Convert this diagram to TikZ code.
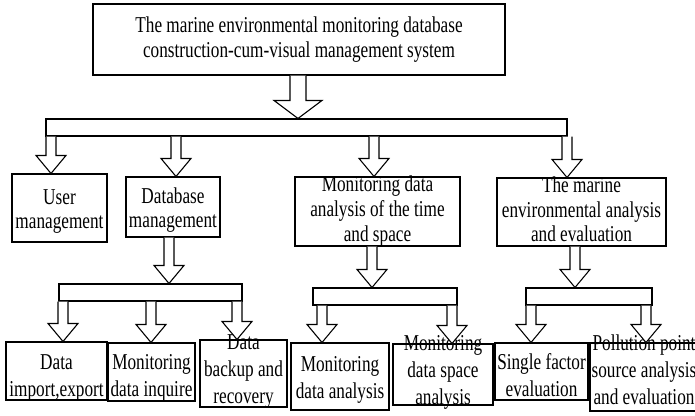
\documentclass[tikz,border=0pt]{standalone}
\usepackage{fontspec}
\setmainfont{Liberation Serif}[FakeStretch=0.76]
\usepackage{tikz}
\usetikzlibrary{fit,calc}

\tikzset{
  size/.style 2 args={minimum width=#1*0.75pt, minimum height=#2*0.75pt},
  textbox/.style 2 args={text height=#1pt, text depth=#2pt},
  box/.style={draw, line width=0.8pt, inner sep=0pt, align=center, font=\fontsize{17}{18.5}\selectfont},
  leaf/.style={box, font=\fontsize{17}{20.25}\selectfont},
  bar/.style={draw, line width=0.8pt, inner sep=0pt},
  blockarrow/.style={draw, line width=0.8pt, fill=white, line join=miter}
}

% hollow block arrow: [size] {x of shaft} {from node} {to node}
\newcommand{\hollowarrow}[4][1]{%
  \path (#2,0 |- #3.south) coordinate (tail) (#2,0 |- #4.north) coordinate (tip);
  \draw[blockarrow] ($(tail)+(-5*#1,0)$) -- ($(tip)+(-5*#1,-18)$) -- ($(tip)+(-15*#1,-18)$) -- (tip)
    -- ($(tip)+(15*#1,-18)$) -- ($(tip)+(5*#1,-18)$) -- ($(tail)+(5*#1,0)$);}

\begin{document}
\begin{tikzpicture}[x=0.75pt, y=-0.75pt]
    \useasboundingbox (0,0) rectangle (695,415);

    % System box
    \node[box, size={412}{71}] (system) at (299,39.5) {The marine environmental monitoring database\\construction-cum-visual management system};

    % Bars
    \node[bar, fit={(46,119) (567,136)}] (bus) {};
    \node[bar, fit={(59,284) (242,301)}] (dbbus) {};
    \node[bar, fit={(313,288) (457,305)}] (timebus) {};
    \node[bar, fit={(526,288) (652,305)}] (evalbus) {};

    % Modules
    \node[box, size={95}{68}, textbox={31.25}{-1.25}] (user) at (59.5,208) {User\\management};
    \node[box, size={94}{60}, textbox={31.25}{-1.25}] (db) at (173,207) {Database\\management};
    \node[box, size={165}{69}, textbox={44.5}{-4.5}] (time) at (377.5,211.5) {Monitoring data\\analysis of the time\\and space};
    \node[box, size={169}{68}, textbox={44.5}{-4.5}] (marine) at (581.5,212) {The marine\\environmental analysis\\and evaluation};

    % Functions
    \node[leaf, size={101}{58}, textbox={37.5}{-7.5}] (imexport) at (56.5,371) {Data\\import,export};
    \node[leaf, size={87}{58}, textbox={36.75}{-6.75}] (inquire) at (151.5,372) {Monitoring\\data inquire};
    \node[leaf, size={87}{67}, textbox={44.5}{-14.5}] (backup) at (243.5,373.5) {Data\\backup and\\recovery};
    \node[leaf, size={98}{67}, textbox={33.5}{-3.5}] (dataanalysis) at (340,376.5) {Monitoring\\data analysis};
    \node[leaf, size={100}{61}, textbox={44.5}{-14.5}] (spaceanalysis) at (443,374.5) {Monitoring\\data space\\analysis};
    \node[leaf, size={93}{57}, textbox={37}{-7}] (single) at (541.5,371.5) {Single factor\\evaluation};
    \node[leaf, size={108}{68}, textbox={41.75}{-11.75}] (pollution) at (644,377) {Pollution point\\source analysis\\and evaluation};

    % Arrows
    \hollowarrow[1.6]{298}{system}{bus}
    \hollowarrow{51}{bus}{user}
    \hollowarrow{176}{bus}{db}
    \hollowarrow{374}{bus}{time}
    \hollowarrow{567}{bus}{marine}
    \hollowarrow{169}{db}{dbbus}
    \hollowarrow{63}{dbbus}{imexport}
    \hollowarrow{151}{dbbus}{inquire}
    \hollowarrow{237}{dbbus}{backup}
    \hollowarrow{372}{time}{timebus}
    \hollowarrow{322}{timebus}{dataanalysis}
    \hollowarrow{452}{timebus}{spaceanalysis}
    \hollowarrow{575}{marine}{evalbus}
    \hollowarrow{531}{evalbus}{single}
    \hollowarrow{646}{evalbus}{pollution}
\end{tikzpicture}
\end{document}
